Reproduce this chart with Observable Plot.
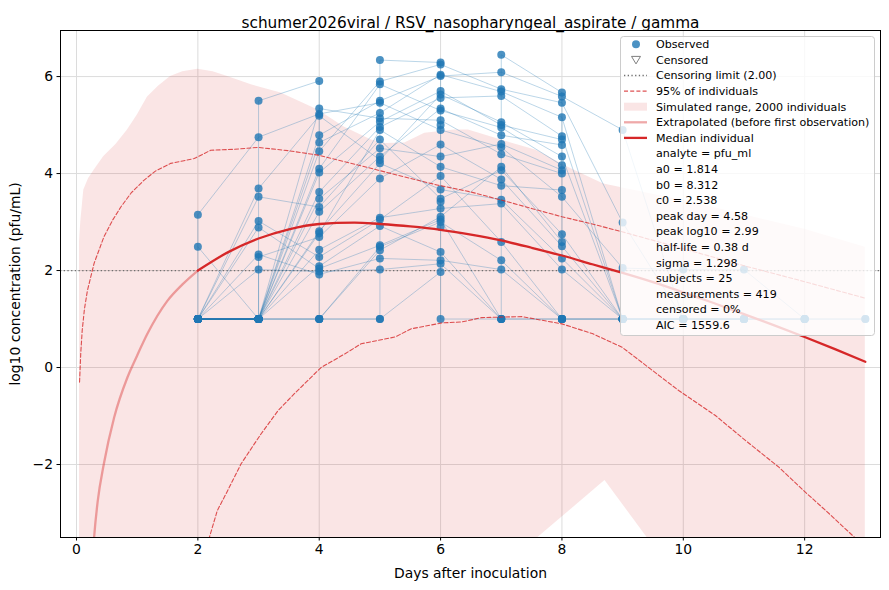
<!DOCTYPE html>
<html>
<head>
<meta charset="utf-8">
<script src="https://cdn.jsdelivr.net/npm/d3@7"></script>
<script src="https://cdn.jsdelivr.net/npm/@observablehq/plot@0.6"></script>
<style>
  body { margin: 0; background: #fff; font-family: "DejaVu Sans", sans-serif; }
  #wrap { position: relative; width: 889px; height: 590px; }
  #legend { position: absolute; left: 620px; top: 36px; }
</style>
</head>
<body>
<div id="wrap"><div id="chart"></div><svg id="legend" xmlns="http://www.w3.org/2000/svg" width="255" height="300"></svg></div>
<script>
// ---------- data ----------
const title = "schumer2026viral / RSV_nasopharyngeal_aspirate / gamma";
const days = [2, 3, 4, 5, 6, 7, 8, 9, 10, 11, 12, 13];
const xTicks = [0, 2, 4, 6, 8, 10, 12];
const yTicks = [-2, 0, 2, 4, 6];
const censorLimit = 2.0;

// observed log10 values per sampling day, one slot per subject (S1..S29); null = no sample,
// inner arrays = several samples on the same day
const d2 = [[1,3.15],2.49,1,1,1,1,1,1,1,1,1,1,1,1,1,1,1,1,1,1,1,1,1,1,1,null,null,null,null];
const d3 = [4.75,[1,5.50],3.69,1,3.52,1,3.02,1,2.89,1,2.33,1,[1,2.28],1,2.02,1,1,1,1,1,1,1,1,1,1,null,null,null,null];
const d4 = [5.23,[5.91,1],5.19,4.46,3.31,5.34,2.28,4.79,2.04,3.62,1.92,4.10,2.69,2.81,1.98,4.64,3.48,1,2.43,4.02,2.09,1,3.21,2.77,1,null,null,null,null];
const d5 = [5.46,[1,6.34],4.28,5.90,4.70,5.14,3.05,5.50,2.52,4.96,2.25,5.84,3.90,4.21,2.02,5.25,4.52,2.49,3.09,5.07,2.92,1,4.35,4.90,2.42,null,null,null,null];
const d6 = [4.90,[6.29,1],5.63,6.25,3.48,5.10,3.95,6.01,3.05,5.56,2.21,5.30,4.60,3.67,2.14,6.04,4.35,3.00,3.28,5.70,2.38,1.97,5.34,4.14,3.11,5.00,3.42,2.90,null];
const d7 = [4.54,[1,6.45],5.06,5.74,4.07,4.40,2.59,6.09,1,5.60,2.02,4.95,3.88,3.46,1,5.69,4.61,2.21,3.38,5.00,1,null,4.79,3.75,4.14,null,null,null,null];
const d8 = [3.52,[5.67,1],4.35,5.46,2.75,4.00,1,5.59,1,4.77,1,4.17,2.50,2.25,1,5.16,4.07,1,2.02,4.70,null,null,4.59,3.66,2.59,null,null,null,null];
const d9 = [2.05,1,1,2.99,1,null,1,4.90,1,1,null,null,1,1,null,1,null,null,1,null,null,null,null,null,null,null,null,null,null];
const d10 = [2.02,1,1,1,1,null,null,1,1,1,null,null,null,1,null,1,null,null,null,null,null,null,null,null,null,null,null,null,null];
const d11 = [2.02,1,null,1,1,null,null,null,null,1,null,null,null,1,null,1,null,null,null,null,null,null,null,null,null,null,null,null,null];
const d12 = [1,1,null,1,null,null,null,null,null,1,null,null,null,null,null,1,null,null,null,null,null,null,null,null,null,null,null,null,null];
const d13 = [null,null,null,1,null,null,null,null,null,null,null,null,null,null,null,1,null,null,null,null,null,null,null,null,null,null,null,null,null];

// simulated range of 2000 individuals (envelope)
const bandX     = [0.05,0.07,0.12,0.2,0.29,0.45,0.65,0.84,1.0,1.17,1.35,1.55,1.75,2.0,2.25,2.49,2.88,3.37,3.98,4.41,4.86,5.1,5.41,5.74,6.23,6.46,7.0,7.55,7.61,8.1,8.66,8.71,9.4,10,11,12,13];
const bandUpper = [2.6,3.0,3.66,3.9,4.07,4.35,4.6,4.9,5.2,5.58,5.8,6.0,6.1,6.15,6.1,6.0,5.83,5.66,5.31,4.96,4.69,4.62,4.63,4.83,4.9,4.9,4.69,4.49,4.46,4.13,3.8,3.78,3.6,3.45,3.15,2.85,2.48];
const bandLower = [-10,-10,-10,-10,-10,-10,-10,-10,-10,-10,-10,-10,-10,-10,-10,-10,-10,-10,-10,-10,-10,-10,-10,-10,-9,-8,-4.5,-3.6,-3.5,-2.98,-2.38,-2.33,-3.5,-4.5,-6,-7,-8];

// 95% of individuals
const p95UpX = [0.05,0.07,0.094,0.13,0.18,0.29,0.45,0.6,0.73,0.9,1.11,1.3,1.55,1.75,1.94,2.21,2.6,2.99,3.5,3.98,4.5,4.97,5.5,5.96,6.5,7.01,7.5,8.0,8.5,8.99,10,11,12,13];
const p95UpY = [-0.3,0.3,0.77,1.2,1.59,2.15,2.69,3.05,3.31,3.6,3.86,4.05,4.21,4.26,4.31,4.48,4.5,4.54,4.47,4.38,4.22,4.07,3.9,3.76,3.62,3.45,3.28,3.11,2.96,2.80,2.45,2.1,1.77,1.43];
const p95LoX = [1.6,2.0,2.19,2.32,2.49,2.71,3.04,3.32,3.59,4.03,4.42,4.69,5.25,5.52,6.02,6.35,6.68,7.34,8.0,8.5,8.99,9.93,10.53,11.03,11.58,12.02,12.41,12.82,13];
const p95LoY = [-6,-4.3,-3.5,-2.95,-2.54,-1.99,-1.37,-0.89,-0.54,0.0,0.28,0.49,0.63,0.80,0.92,0.94,1.03,1.05,0.90,0.70,0.42,-0.48,-0.99,-1.51,-2.06,-2.58,-3.02,-3.5,-3.75];

// median individual
const extX = [0.22,0.29,0.35,0.45,0.62,0.84,1.0,1.17,1.5,1.75,2.0];
const extY = [-5,-3.5,-2.75,-1.99,-1.03,-0.2,0.25,0.70,1.38,1.72,2.0];
const medX = [2.0,2.5,3.0,3.5,4.0,4.58,5.0,5.5,6.0,6.5,7.0,7.5,8.0,8.5,9.0,9.5,10.0,10.5,11.0,11.5,12.0,12.5,13.0];
const medY = [2.0,2.38,2.66,2.85,2.96,2.99,2.96,2.91,2.84,2.74,2.62,2.47,2.31,2.13,1.95,1.76,1.55,1.33,1.10,0.87,0.63,0.38,0.12];

const legendItems = ["Observed","Censored","Censoring limit (2.00)","95% of individuals","Simulated range, 2000 individuals","Extrapolated (before first observation)","Median individual"];
const fitStats = ["analyte = pfu_ml","a0 = 1.814","b0 = 8.312","c0 = 2.538","peak day = 4.58","peak log10 = 2.99","half-life = 0.38 d","sigma = 1.298","subjects = 25","measurements = 419","censored = 0%","AIC = 1559.6"];

// ---------- tables ----------
const dayArrays = [d2,d3,d4,d5,d6,d7,d8,d9,d10,d11,d12,d13];
const obs = [];
dayArrays.forEach((arr, k) => arr.forEach((v, s) => {
  if (v == null) return;
  (Array.isArray(v) ? v : [v]).forEach((y, r) => obs.push({subject: s, day: days[k], value: y, ord: k * 10 + r}));
}));
obs.sort((a, b) => a.subject - b.subject || a.ord - b.ord);
const band = bandX.map((x, i) => ({x, lo: bandLower[i], hi: bandUpper[i]}));
const p95Up = p95UpX.map((x, i) => ({x, y: p95UpY[i]}));
const p95Lo = p95LoX.map((x, i) => ({x, y: p95LoY[i]}));
const ext = extX.map((x, i) => ({x, y: extY[i]}));
const med = medX.map((x, i) => ({x, y: medY[i]}));

const red = "#d62728", blue = "#1f77b4";
const minus = d => d < 0 ? "\u2212" + Math.abs(d) : String(d);

const chart = Plot.plot({
  width: 889, height: 590,
  marginLeft: 60, marginRight: 9, marginTop: 30, marginBottom: 53,
  style: {fontFamily: "DejaVu Sans, sans-serif", fontSize: "13.9px", background: "white", color: "black"},
  x: {domain: [-0.264, 13.25], ticks: xTicks, tickFormat: minus, tickSize: 3.5, tickPadding: 3,
      label: "Days after inoculation", labelAnchor: "center", labelArrow: "none", labelOffset: 40},
  y: {domain: [-3.505, 6.95], ticks: yTicks, tickFormat: minus, tickSize: 3.5, tickPadding: 4,
      label: "log10 concentration (pfu/mL)", labelAnchor: "center", labelArrow: "none", labelOffset: 50},
  marks: [
    Plot.gridX(xTicks, {stroke: "#dcdcdc", strokeOpacity: 1}),
    Plot.gridY(yTicks, {stroke: "#dcdcdc", strokeOpacity: 1}),
    Plot.areaY(band, {x: "x", y1: "lo", y2: "hi", fill: red, fillOpacity: 0.12, clip: true}),
    Plot.ruleY([censorLimit], {stroke: "#6f6f6f", strokeWidth: 1.3, strokeDasharray: "1.3,2.4"}),
    Plot.line(obs, {x: "day", y: "value", z: "subject", stroke: blue, strokeOpacity: 0.3, strokeWidth: 1, clip: true}),
    Plot.dot(obs, {x: "day", y: "value", r: 4, fill: blue, fillOpacity: 0.8, stroke: "none"}),
    Plot.line(p95Up, {x: "x", y: "y", stroke: red, strokeOpacity: 0.8, strokeWidth: 1.1, strokeDasharray: "4,2.2", clip: true}),
    Plot.line(p95Lo, {x: "x", y: "y", stroke: red, strokeOpacity: 0.8, strokeWidth: 1.1, strokeDasharray: "4,2.2", clip: true}),
    Plot.line(ext, {x: "x", y: "y", stroke: red, strokeOpacity: 0.4, strokeWidth: 2.3, curve: "monotone-x", clip: true}),
    Plot.line(med, {x: "x", y: "y", stroke: red, strokeWidth: 2.3, curve: "monotone-x", clip: true}),
    Plot.frame({stroke: "black", strokeWidth: 1}),
    Plot.text([title], {frameAnchor: "top", dy: -13, fontSize: 15.3, fill: "black"})
  ]
});
document.getElementById("chart").appendChild(chart);

// ---------- legend overlay ----------
const NS = "http://www.w3.org/2000/svg";
const lg = document.getElementById("legend");
function add(tag, attrs, text) {
  const el = document.createElementNS(NS, tag);
  for (const k in attrs) el.setAttribute(k, attrs[k]);
  if (text != null) el.textContent = text;
  lg.appendChild(el);
  return el;
}
add("rect", {x: 0.5, y: 0.5, width: 254, height: 299, rx: 3, fill: "white", "fill-opacity": 0.8, stroke: "#cccccc"});
const rows = legendItems.concat(fitStats);
const rowY = i => 8.3 + 15.6 * i;
rows.forEach((t, i) => add("text", {x: 36, y: rowY(i), dy: "0.36em", "font-family": "DejaVu Sans, sans-serif", "font-size": 11.1, fill: "black"}, t));
const hx1 = 4, hx2 = 27, hc = 16;
add("circle", {cx: hc, cy: rowY(0), r: 4, fill: blue, "fill-opacity": 0.8});
add("path", {d: `M${hc-4.5},${rowY(1)-3.5}L${hc+4.5},${rowY(1)-3.5}L${hc},${rowY(1)+4}Z`, fill: "none", stroke: "#7f7f7f", "stroke-width": 1});
add("line", {x1: hx1, x2: hx2, y1: rowY(2), y2: rowY(2), stroke: "#6f6f6f", "stroke-width": 1.3, "stroke-dasharray": "1.3,2.4"});
add("line", {x1: hx1, x2: hx2, y1: rowY(3), y2: rowY(3), stroke: red, "stroke-opacity": 0.8, "stroke-width": 1.1, "stroke-dasharray": "4,2.2"});
add("rect", {x: hx1, y: rowY(4) - 4, width: hx2 - hx1, height: 8, fill: red, "fill-opacity": 0.12});
add("line", {x1: hx1, x2: hx2, y1: rowY(5), y2: rowY(5), stroke: red, "stroke-opacity": 0.4, "stroke-width": 2.3});
add("line", {x1: hx1, x2: hx2, y1: rowY(6), y2: rowY(6), stroke: red, "stroke-width": 2.3});
</script>
</body>
</html>
